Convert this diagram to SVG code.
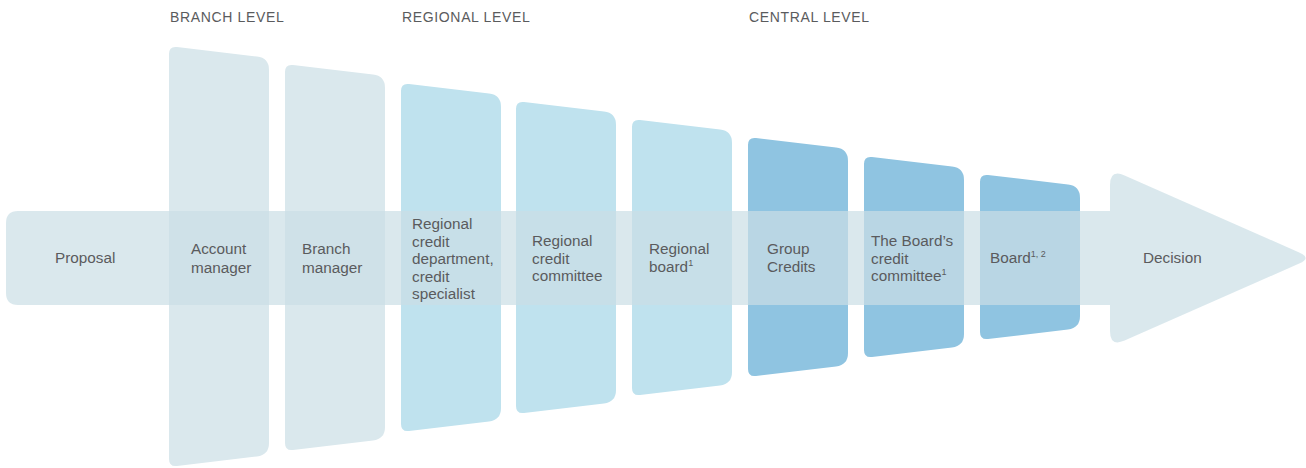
<svg xmlns="http://www.w3.org/2000/svg" width="1306" height="468" viewBox="0 0 1306 468">
<style>
.t{font-family:"Liberation Sans",Arial,sans-serif;font-size:15.3px;fill:#5a5b5d}
.h{font-family:"Liberation Sans",Arial,sans-serif;font-size:14px;letter-spacing:0.65px;fill:#5a5b5d}
.sup{font-size:9px}
.br{fill:#dae8ed}
.rg{fill:#bfe2ee}
.ce{fill:#8fc4e1}
.band{fill:#cadee5;opacity:0.7}
</style>
<g id="headers">
<text class="h" x="170" y="22">BRANCH LEVEL</text>
<text class="h" x="402" y="22">REGIONAL LEVEL</text>
<text class="h" x="749" y="22">CENTRAL LEVEL</text>
</g>
<g id="panels">
<path id="p1" class="br" d="M169,54 Q169,46 177,47 L257,56.6 Q269,58 269,70 L269,443 Q269,455 257,456.4 L177,466 Q169,467 169,459 Z"/>
<path id="p2" class="br" d="M285,72 Q285,64 293,65 L373,74.6 Q385,76 385,88 L385,427 Q385,439 373,440.4 L293,450 Q285,451 285,443 Z"/>
<path id="p3" class="rg" d="M401,91 Q401,83 409,84 L489,93.6 Q501,95 501,107 L501,408 Q501,420 489,421.4 L409,431 Q401,432 401,424 Z"/>
<path id="p4" class="rg" d="M516,109 Q516,101 524,102 L604,111.6 Q616,113 616,125 L616,390 Q616,402 604,403.4 L524,413 Q516,414 516,406 Z"/>
<path id="p5" class="rg" d="M632,127 Q632,119 640,120 L720,129.6 Q732,131 732,143 L732,372 Q732,384 720,385.4 L640,395 Q632,396 632,388 Z"/>
<path id="p6" class="ce" d="M748,145 Q748,137 756,138 L836,147.6 Q848,149 848,161 L848,353 Q848,365 836,366.4 L756,376 Q748,377 748,369 Z"/>
<path id="p7" class="ce" d="M864,164 Q864,156 872,157 L952,166.6 Q964,168 964,180 L964,334 Q964,346 952,347.4 L872,357 Q864,358 864,350 Z"/>
<path id="p8" class="ce" d="M980,182 Q980,174 988,175 L1068,184.6 Q1080,186 1080,198 L1080,316 Q1080,328 1068,329.4 L988,339 Q980,340 980,332 Z"/>
</g>
<g id="connectors">
<path id="arrow" class="band" d="M18,211 L1110,211 L1110,185 Q1110,169 1124.6,175.4 L1299.2,252.4 Q1312,258 1299.2,263.6 L1124.6,340.6 Q1110,347 1110,331 L1110,305 L18,305 Q6,305 6,293 L6,223 Q6,211 18,211 Z"/>
</g>
<g id="labels">
<g id="n-proposal"><text class="t" x="55" y="263">Proposal</text></g>
<g id="n-account"><text class="t" x="191" y="254">Account</text><text class="t" x="191" y="273">manager</text></g>
<g id="n-branch"><text class="t" x="302" y="254">Branch</text><text class="t" x="302" y="273">manager</text></g>
<g id="n-rcd"><text class="t" x="412" y="229">Regional</text><text class="t" x="412" y="246.5">credit</text><text class="t" x="412" y="264">department,</text><text class="t" x="412" y="281.5">credit</text><text class="t" x="412" y="299">specialist</text></g>
<g id="n-rcc"><text class="t" x="532" y="246">Regional</text><text class="t" x="532" y="263.5">credit</text><text class="t" x="532" y="281">committee</text></g>
<g id="n-rb"><text class="t" x="649" y="254">Regional</text><text class="t" x="649" y="272">board<tspan class="sup" dy="-6">1</tspan></text></g>
<g id="n-gc"><text class="t" x="767" y="254">Group</text><text class="t" x="767" y="272">Credits</text></g>
<g id="n-bcc"><text class="t" x="871" y="246">The Board’s</text><text class="t" x="871" y="263.5">credit</text><text class="t" x="871" y="281">committee<tspan class="sup" dy="-6">1</tspan></text></g>
<g id="n-board"><text class="t" x="990" y="263">Board<tspan class="sup" dy="-6">1, 2</tspan></text></g>
<g id="n-decision"><text class="t" x="1143" y="263">Decision</text></g>
</g>
</svg>
